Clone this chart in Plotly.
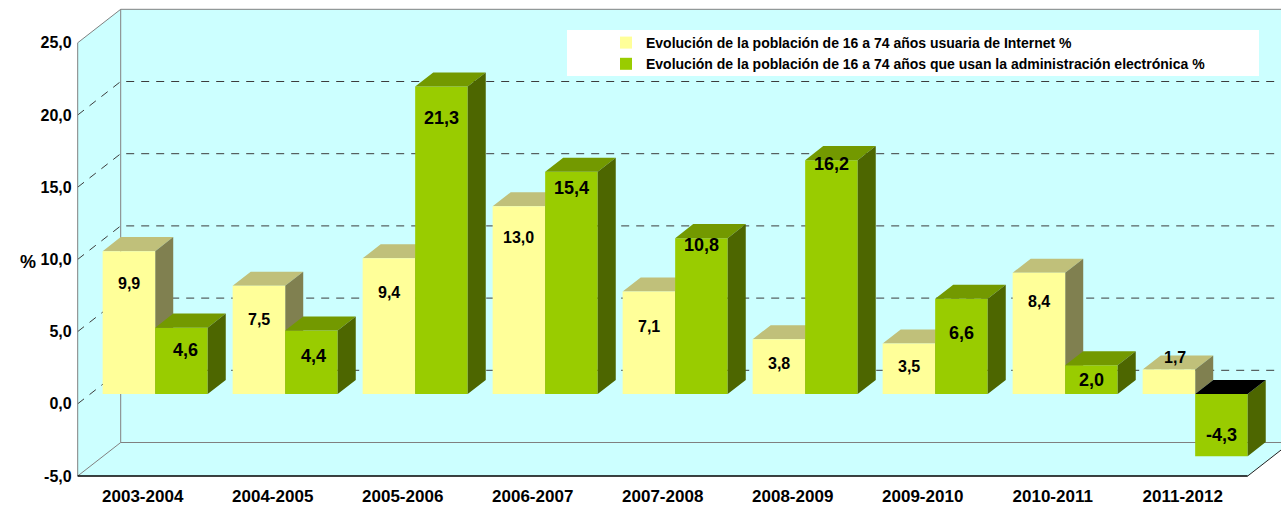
import plotly.graph_objects as go

# ---------------- data ----------------
categories = ["2003-2004", "2004-2005", "2005-2006", "2006-2007", "2007-2008",
              "2008-2009", "2009-2010", "2010-2011", "2011-2012"]
internet = [9.9, 7.5, 9.4, 13.0, 7.1, 3.8, 3.5, 8.4, 1.7]
egov = [4.6, 4.4, 21.3, 15.4, 10.8, 16.2, 6.6, 2.0, -4.3]
name_internet = "Evolución de la población de 16 a 74 años usuaria de Internet %"
name_egov = "Evolución de la población de 16 a 74 años que usan la administración electrónica %"
y_ticks = [-5, 0, 5, 10, 15, 20, 25]

# ---------------- style / geometry ----------------
FONT = "Liberation Sans"
WALL = "#CCFFFF"
EDGE = "#808080"
GRID = "#3C3C3C"
Y_FRONT, Y_TOP, Y_SIDE = "#FFFF99", "#C0C07A", "#808050"
G_FRONT, G_TOP, G_SIDE = "#99CC00", "#739900", "#4D6600"

X_RANGE = [-1.0977, 8.7562]
Y_RANGE = [-7.0776, 27.964]
DX, DY = 43 / 130, 33.5 / 14.44      # full depth projection (data units)
D0, D1 = 0.29, 0.71                 # bar depth span (fraction of depth)
BW = 0.404                          # bar width (category units)
XL, XR = -0.5, len(categories) - 0.5
VMIN, VMAX = y_ticks[0], y_ticks[-1]

SHIFT, BASE = D0 * DX, D0 * DY
DDX, DDY = (D1 - D0) * DX, (D1 - D0) * DY

# label offsets relative to the bar top (px)
lab_off_y = [32, 34, 34, 31, 35, 24, 23, 29, -12]
lab_off_g = [22, 25, 31, 16, 7, 4, 34, 15, 41]
lab_dx_y = [0, 0, 0, 0, 0, 0, 0, 0, 6]
lab_dx_g = [4, 2, 0, 0, 0, 0, 0, 0, 0]


def fmt(v):
    return f"{v:.1f}".replace(".", ",")


def faces(values, left_offset):
    tx, ty, sx, sy, nx, ny = [], [], [], [], [], []
    for i, v in enumerate(values):
        xl = i + SHIFT + left_offset
        xr = xl + BW
        top = max(v, 0) + BASE
        bot = min(v, 0) + BASE
        poly_t = ([xl, xr, xr + DDX, xl + DDX, xl], [top, top, top + DDY, top + DDY, top])
        if v < 0:
            nx += poly_t[0] + [None]; ny += poly_t[1] + [None]
        else:
            tx += poly_t[0] + [None]; ty += poly_t[1] + [None]
        sx += [xr, xr, xr + DDX, xr + DDX, xr, None]
        sy += [bot, top, top + DDY, bot + DDY, bot, None]
    return (tx, ty), (sx, sy), (nx, ny)


def poly(xs, ys, color, xa="x", ya="y"):
    return go.Scatter(x=xs, y=ys, fill="toself", fillcolor=color, mode="lines",
                      line=dict(width=0, color=color),
                      xaxis=xa, yaxis=ya, showlegend=False, hoverinfo="skip")


def seg(xs, ys, color, dash="solid", width=1):
    return go.Scatter(x=xs, y=ys, mode="lines", line=dict(color=color, width=width, dash=dash),
                      showlegend=False, hoverinfo="skip")


fig = go.Figure()

# walls
fig.add_trace(poly([XL + DX, XR + DX, XR + DX, XL + DX, XL + DX],
                   [VMIN + DY, VMIN + DY, VMAX + DY, VMAX + DY, VMIN + DY], WALL))
fig.add_trace(poly([XL, XL, XL + DX, XL + DX, XL],
                   [VMIN, VMAX, VMAX + DY, VMIN + DY, VMIN], WALL))
fig.add_trace(poly([XL, XR, XR + DX, XL + DX, XL],
                   [VMIN, VMIN, VMIN + DY, VMIN + DY, VMIN], WALL))

# gridlines on walls
for v in y_ticks[1:-1]:
    fig.add_trace(seg([XL, XL + DX, XR + DX], [v, v + DY, v + DY], GRID, dash="8px,7px"))

# wall edges
fig.add_trace(seg([XL, XL, XL + DX, XR + DX], [VMIN, VMAX, VMAX + DY, VMAX + DY], EDGE))
fig.add_trace(seg([XL + DX, XL + DX], [VMIN + DY, VMAX + DY], EDGE))
fig.add_trace(seg([XL, XL + DX, XR + DX], [VMIN, VMIN + DY, VMIN + DY], EDGE))
fig.add_trace(seg([XR, XR + DX], [VMIN, VMIN + DY], "#202020"))
fig.add_trace(seg([XL, XR], [VMIN, VMIN], "#000000", width=1.5))

# yellow bar top & side faces (behind green fronts)
(yt, ys_, yn) = faces(internet, -BW)
fig.add_trace(poly(*yt, Y_TOP))
fig.add_trace(poly(*ys_, Y_SIDE))

# bar fronts (overlay subplot, drawn above)
xs = [i + SHIFT for i in range(len(categories))]
fig.add_trace(go.Bar(x=xs, y=internet, base=BASE, width=BW, offset=-BW, name=name_internet,
                     marker=dict(color=Y_FRONT, line=dict(width=0)), xaxis="x2", yaxis="y2",
                     hoverinfo="skip"))
fig.add_trace(go.Bar(x=xs, y=egov, base=BASE, width=BW, offset=0, name=name_egov,
                     marker=dict(color=G_FRONT, line=dict(width=0)), xaxis="x2", yaxis="y2",
                     hoverinfo="skip"))

(gt, gs, gn) = faces(egov, 0)
fig.add_trace(poly(*gt, G_TOP, "x2", "y2"))
fig.add_trace(poly(*gs, G_SIDE, "x2", "y2"))
fig.add_trace(poly(*gn, "#000000", "x2", "y2"))

# data labels
ann = []
for i, (vy, vg) in enumerate(zip(internet, egov)):
    ann.append(dict(x=xs[i] - BW / 2, y=max(vy, 0) + BASE, xref="x", yref="y", text=fmt(vy),
                    showarrow=False, yshift=-lab_off_y[i], xshift=lab_dx_y[i], yanchor="middle",
                    font=dict(family=FONT, size=16, color="black", weight="bold")))
    ann.append(dict(x=xs[i] + BW / 2, y=max(vg, 0) + BASE, xref="x", yref="y", text=fmt(vg),
                    showarrow=False, yshift=-lab_off_g[i], xshift=lab_dx_g[i], yanchor="middle",
                    font=dict(family=FONT, size=18, color="black", weight="bold")))
ann.append(dict(x=18 / 1281, y=1 - 262 / 506, xref="paper", yref="paper", text="%",
                showarrow=False, font=dict(family=FONT, size=18, color="black", weight="bold")))

fig.update_layout(
    width=1281, height=506,
    margin=dict(l=0, r=0, t=0, b=0, autoexpand=False),
    paper_bgcolor="white", plot_bgcolor="white",
    separators=",.", barmode="overlay",
    font=dict(family=FONT, color="black"),
    annotations=ann,
    shapes=[dict(type="rect", xref="paper", yref="paper", x0=567 / 1281, x1=1259 / 1281,
                 y0=1 - 76 / 506, y1=1 - 30 / 506, fillcolor="white", line=dict(width=0),
                 layer="above")],
    legend=dict(x=606 / 1281, y=1 - 27 / 506, xanchor="left", yanchor="top",
                bgcolor="rgba(0,0,0,0)", font=dict(family=FONT, size=14, color="black", weight="bold"),
                traceorder="normal"),
    xaxis=dict(range=X_RANGE, tickvals=list(range(len(categories))), ticktext=categories,
               anchor="free", position=(506 - 476) / 506, showgrid=False, zeroline=False,
               showline=False, ticks="", ticklabelstandoff=8,
               tickfont=dict(family=FONT, size=17, color="black", weight="bold")),
    yaxis=dict(range=Y_RANGE, tickvals=y_ticks, ticktext=[fmt(v) for v in y_ticks],
               anchor="free", position=77.7 / 1281, showgrid=False, zeroline=False,
               showline=False, ticks="", ticklabelstandoff=6,
               tickfont=dict(family=FONT, size=16, color="black", weight="bold")),
    xaxis2=dict(range=X_RANGE, overlaying="x", anchor="y2", visible=False),
    yaxis2=dict(range=Y_RANGE, overlaying="y", anchor="x2", visible=False),
)

fig.write_html("out.html", config={"displayModeBar": False},
               post_script="document.body.style.margin='0';document.body.style.overflow='hidden';")
